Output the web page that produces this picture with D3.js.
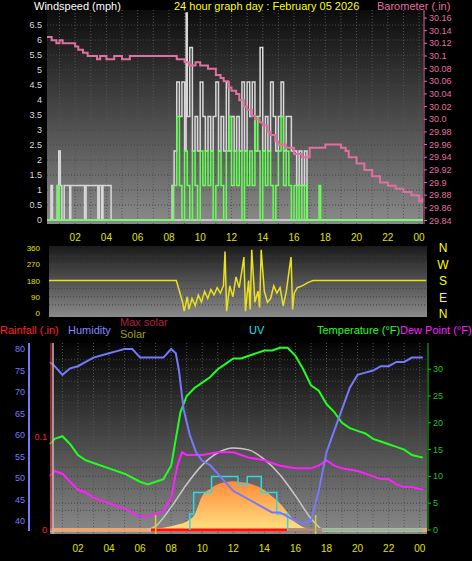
<!DOCTYPE html>
<html><head><meta charset="utf-8">
<script src="https://cdn.jsdelivr.net/npm/d3@7"></script>
<style>body{margin:0;background:#000}svg{display:block}text{font-family:"Liberation Sans",Arial,sans-serif}</style>
</head><body>
<svg id="c" width="472" height="561"></svg>
<script>
// ---- data (hours since midnight) ----
var hourTicks = [2,4,6,8,10,12,14,16,18,20,22,24];
var gustTimes = [0.2,0.45,0.55,0.85,0.95,1.05,1.15,1.3,1.65,1.72,2.6,2.7,3.45,3.55,3.7,3.78,4.3,4.38,8.2,8.33,8.5,8.67,8.83,9.0,9.1,9.17,9.33,9.5,9.67,9.83,10,10.17,10.33,10.5,10.67,10.83,11,11.17,11.33,11.5,11.67,11.83,12,12.17,12.33,12.5,12.67,12.83,13,13.17,13.33,13.5,13.67,13.83,14,14.17,14.33,14.5,14.67,14.83,15,15.17,15.33,15.5,15.67,15.83,16,16.17,16.33,16.5,16.67,16.83,24.25];
var gustValues = [0,1.15,0,1.15,2.3,1.15,0,1.15,0,1.15,0,1.15,0,1.15,0,1.15,0,0,1.15,2.3,4.6,3.45,4.6,2.3,6.9,3.45,5.75,2.3,3.45,2.3,4.6,3.45,2.3,3.45,2.3,3.45,4.6,2.3,3.45,2.3,4.6,2.3,3.45,2.3,3.45,2.3,4.6,2.3,4.6,3.45,4.6,2.3,3.45,5.75,2.3,3.45,2.3,4.6,3.45,2.3,3.45,4.6,2.3,3.45,3.45,2.3,2.3,1.15,2.3,1.15,2.3,0,0];
var speedTimes = [0.2,0.9,1.0,8.3,8.5,8.67,8.83,9.0,9.17,9.33,9.5,9.67,9.83,10,10.17,10.33,10.5,10.67,10.83,11,11.17,11.33,11.5,11.67,11.83,12,12.17,12.33,12.5,12.67,12.83,13,13.17,13.33,13.5,13.67,13.83,14,14.17,14.33,14.5,14.67,14.83,15,15.17,15.33,15.5,15.67,15.83,16,16.17,16.33,16.5,16.67,16.83,17.6,17.7,24.25];
var speedValues = [0,1.15,0,1.15,3.45,1.15,0,2.3,1.15,0,2.3,1.15,0,2.3,1.15,2.3,1.15,2.3,0,1.15,2.3,1.15,0,2.3,3.45,1.15,2.3,1.15,2.3,0,2.3,1.15,2.3,1.15,3.45,2.3,0,2.3,1.15,2.3,1.15,0,1.15,2.3,3.45,1.15,2.3,1.15,0,1.15,0,1.15,0,1.15,0,1.15,0,0];
var baroTimes = [0.2,0.5,0.8,1.0,1.2,1.6,2.0,2.2,2.5,2.8,3,3.4,3.6,4,4.5,5,5.5,6,7,8,8.5,9,9.3,9.7,10,10.5,11,11.3,11.5,11.8,12,12.3,12.5,12.8,13,13.3,13.5,13.8,14,14.3,14.5,14.8,15,15.5,16,16.5,17,18,19,19.3,19.5,20,20.5,21,21.5,22,22.5,23,23.5,24,24.2];
var baroValues = [30.13,30.125,30.12,30.125,30.12,30.12,30.115,30.11,30.105,30.1,30.1,30.095,30.1,30.095,30.1,30.095,30.1,30.1,30.1,30.1,30.095,30.09,30.085,30.09,30.085,30.08,30.07,30.065,30.06,30.05,30.045,30.04,30.03,30.02,30.015,30.005,30.0,29.995,29.99,29.98,29.975,29.965,29.96,29.955,29.945,29.94,29.955,29.96,29.955,29.95,29.94,29.93,29.92,29.91,29.9,29.895,29.89,29.885,29.88,29.87,29.875];
var dirTimes = [0.2,8.3,8.5,8.7,8.8,9.0,9.1,9.3,9.5,9.7,9.9,10.1,10.3,10.5,10.7,10.9,11.1,11.3,11.4,11.5,11.7,11.9,12.1,12.3,12.5,12.6,12.7,12.9,13.0,13.1,13.3,13.5,13.6,13.7,13.9,14.1,14.3,14.5,14.7,14.9,15.1,15.3,15.5,15.6,15.7,15.8,16.0,16.3,16.7,17.0,24.2];
var dirValues = [180,180,120,60,10,90,20,80,40,100,60,120,80,130,100,140,110,150,340,10,150,90,200,140,250,310,10,180,20,350,60,120,30,350,120,60,80,150,110,140,40,120,250,310,20,110,140,150,170,180,180];
var humTimes = [0.2,0.5,1,1.5,2,2.5,3,4,4.5,5,5.5,6,7,7.5,8,8.3,8.5,8.8,9.2,9.6,10,10.5,11,11.5,12,12.5,13,13.5,14,14.5,15,15.5,16,16.5,17,17.5,18,18.5,19,19.5,20,20.5,21,21.5,22,22.5,23,23.5,24.2];
var humValues = [77,76,74,75.5,76,77,78,79,79.5,80,80,78,78,78,80,79,75,66,60,56,54,53,51,49,47,46,45,44,43,42,42,41,40,39.5,40,47,56,61,66,71,74,74.5,75,76,76,77,77,78,78];
var tempTimes = [0.2,0.5,1,1.5,2,2.5,3,4,5,6,6.5,7,7.5,8,8.3,8.6,9,9.5,10,10.5,11,11.5,12,12.5,13,13.5,14,14.5,15,15.5,16,16.5,17,17.5,18,18.5,19,19.5,20,20.5,21,21.5,22,22.5,23,23.5,24.2];
var tempValues = [16,17,17.5,16,14,13,12.5,11.5,10.5,9,8.5,9,9.5,12,17,22,25,26.5,27.5,28.5,30,31,32,32,32.5,33,33.5,33.5,34,34,32.5,30,27,26,23.5,22,20,19,18.5,18,17,16.5,16,15.5,15,14,13.5];
var dewTimes = [0.2,0.5,1,1.5,2,2.5,3,4,5,6,6.5,7,7.5,8,8.4,8.7,9,10,11,12,12.5,13,14,15,16,17,17.5,18,18.5,19,20,21,21.5,22,22.5,23,23.5,24.2];
var dewValues = [10,11,10.5,9,7.5,7,6,5,4,2.5,2.5,3,3.5,6,12,14.5,14,14,14.5,14.5,14,13.5,13,12,11.5,11.5,12,13,12,11.5,11,10,9.5,9.5,8.5,8,8,7.5];
var uvTimes = [9.2,9.45,9.6,10.6,12.3,12.9,13.8,14.8,15.2,15.5,24.2];
var uvValues = [3,7,7,10,8.5,10,7,3,3,0,0];
var solarTimes = [7,8,8.5,9,9.5,10,10.5,11,11.5,12,12.5,13,13.5,14,14.5,15,15.5,16,16.5,17,17.5];
var solarValues = [5,20,30,45,80,180,215,240,250,255,250,245,230,210,175,140,90,40,15,5,0];
var maxSolarTimes = [6.5,7,8,9,10,11,12,13,14,15,16,17,17.7];
var maxSolarValues = [0,20,120,240,340,405,430,420,370,290,180,60,0];
var sunMarks = [7.0,17.3];

var svg = d3.select("#c");
var defs = svg.append("defs");
function bgGrad(id, c0, c1){
  var g = defs.append("linearGradient").attr("id", id).attr("x1",0).attr("y1",0).attr("x2",0).attr("y2",1);
  g.append("stop").attr("offset","0%").attr("stop-color",c0);
  g.append("stop").attr("offset","100%").attr("stop-color",c1);
}
bgGrad("bgTop","#0c0c0c","#8a8a8a");
bgGrad("bgMid","#1a1a1a","#8a8a8a");
bgGrad("bgBot","#050505","#8a8a8a");
bgGrad("solarG","#ff8a3a","#ffe080");

function panel(x0,x1,y0,y1,id){
  svg.append("rect").attr("x",x0).attr("y",y0).attr("width",x1-x0).attr("height",y1-y0).attr("fill","url(#"+id+")");
}
function vgrid(xs,y0,y1){
  hourTicks.concat(d3.range(1,25,2)).forEach(function(h){
    svg.append("line").attr("x1",xs(h)).attr("x2",xs(h)).attr("y1",y0).attr("y2",y1)
      .attr("stroke","#555").attr("stroke-dasharray","1,2");
  });
}
function hgrid(ys,ticks,x0,x1){
  ticks.forEach(function(t){
    svg.append("line").attr("x1",x0).attr("x2",x1).attr("y1",ys(t)).attr("y2",ys(t))
      .attr("stroke","#444").attr("stroke-dasharray","1,2");
  });
}
function xLabels(xs,y){
  hourTicks.forEach(function(h){
    svg.append("text").attr("x",xs(h)).attr("y",y).attr("text-anchor","middle")
      .attr("fill","#e0e000").attr("font-size",10).text(d3.format("02")(h%24));
  });
}
function pairs(ts,vs){ return ts.map(function(t,i){return [t,vs[i]];}); }

// ---------- top panel: wind + barometer ----------
var xT = d3.scaleLinear().domain([0.2,24.25]).range([47,423]);
var yW = d3.scaleLinear().domain([0,6.5]).range([220,25]);
var yB = d3.scaleLinear().domain([29.84,30.16]).range([220.5,18]);
panel(47,423,10,224,"bgTop");
vgrid(xT,10,224);
hgrid(yW,d3.range(0.5,7,0.5),47,423);
var stepLine = function(xs,ys){ return d3.line().x(function(d){return xs(d[0]);}).y(function(d){return ys(d[1]);}).curve(d3.curveStepAfter); };
svg.append("line").attr("x1",47).attr("x2",423).attr("y1",yW(0)).attr("y2",yW(0)).attr("stroke","#ddd").attr("stroke-width",1.5);
svg.append("path").attr("d",stepLine(xT,yW)(pairs(gustTimes,gustValues))).attr("fill","none").attr("stroke","#d8d8d8").attr("stroke-width",1.5);
svg.append("path").attr("d",stepLine(xT,yW)(pairs(speedTimes,speedValues))).attr("fill","none").attr("stroke","#66ff55").attr("stroke-width",1.5);
svg.append("path").attr("d",stepLine(xT,yB)(pairs(baroTimes,baroValues))).attr("fill","none").attr("stroke","#e070a0").attr("stroke-width",2);
d3.range(0.5,7,0.5).concat([0]).forEach(function(v){
  svg.append("text").attr("x",42).attr("y",yW(v)+3).attr("text-anchor","end").attr("fill","#ddd").attr("font-size",9).text(v);
});
svg.append("line").attr("x1",424).attr("x2",424).attr("y1",10).attr("y2",224).attr("stroke","#e070a0");
d3.range(29.84,30.17,0.02).forEach(function(v){
  svg.append("line").attr("x1",424).attr("x2",427).attr("y1",yB(v)).attr("y2",yB(v)).attr("stroke","#e070a0");
  svg.append("text").attr("x",429).attr("y",yB(v)+3).attr("fill","#e070a0").attr("font-size",9).text(d3.format(".2f")(v).replace(/0$/,"").replace(/\.$/,""));
});
xLabels(xT,241);
svg.append("text").attr("x",34).attr("y",10).attr("fill","#fff").attr("font-size",11).text("Windspeed (mph)");
svg.append("text").attr("x",174).attr("y",10).attr("fill","#ffff00").attr("font-size",11).text("24 hour graph day : February 05 2026");
svg.append("text").attr("x",377).attr("y",10).attr("fill","#e070a0").attr("font-size",11).text("Barometer (.in)");

// ---------- middle panel: wind direction ----------
var xM = d3.scaleLinear().domain([0.2,24.25]).range([49,427]);
var yD = d3.scaleLinear().domain([0,360]).range([313,248]);
panel(49,427,246,317,"bgMid");
hgrid(yD,[45,90,135,180,225,270,315],49,427);
svg.append("path").attr("d",d3.line().x(function(d){return xM(d[0]);}).y(function(d){return yD(d[1]);})(pairs(dirTimes,dirValues)))
  .attr("fill","none").attr("stroke","#e8e020").attr("stroke-width",1.5);
[0,90,180,270,360].forEach(function(v){
  svg.append("text").attr("x",40).attr("y",yD(v)+3).attr("text-anchor","end").attr("fill","#e0e000").attr("font-size",8).text(v);
});
["N","W","S","E","N"].forEach(function(s,i){
  svg.append("text").attr("x",443).attr("y",252+i*16.5).attr("text-anchor","middle").attr("fill","#ffff00").attr("font-size",12).text(s);
});

// legend row
svg.append("text").attr("x",0).attr("y",334).attr("fill","#ff2020").attr("font-size",11).text("Rainfall (.in)");
svg.append("text").attr("x",68).attr("y",334).attr("fill","#8888ff").attr("font-size",11).text("Humidity");
svg.append("text").attr("x",120).attr("y",326).attr("fill","#b02040").attr("font-size",11).text("Max solar");
svg.append("text").attr("x",120).attr("y",338).attr("fill","#a0a000").attr("font-size",11).text("Solar");
svg.append("text").attr("x",249).attr("y",334).attr("fill","#20e0e0").attr("font-size",11).text("UV");
svg.append("text").attr("x",317).attr("y",334).attr("fill","#20ff20").attr("font-size",11).text("Temperature (°F)");
svg.append("text").attr("x",400).attr("y",334).attr("fill","#ff20ff").attr("font-size",11).text("Dew Point (°F)");

// ---------- bottom panel ----------
var xL = d3.scaleLinear().domain([0.2,24.25]).range([50,423.6]);
var yH = d3.scaleLinear().domain([40,80]).range([521,349]);
var yR = d3.scaleLinear().domain([0,0.2]).range([530,343]);
var yT = d3.scaleLinear().domain([0,35]).range([530,342.4]);
var yS = d3.scaleLinear().domain([0,980]).range([530,343]);
panel(50,427,343,534,"bgBot");
vgrid(xL,343,534);
hgrid(yT,d3.range(5,35,5),50,427);
hgrid(yH,d3.range(42.5,80,5),50,427);
svg.append("rect").attr("x",50).attr("y",528).attr("width",377).attr("height",4).attr("fill","#ffb070").attr("opacity",0.8);
// solar
svg.append("path").attr("d",d3.area().x(function(d){return xL(d[0]);}).y0(yS(0)).y1(function(d){return yS(d[1]);}).curve(d3.curveMonotoneX)(pairs(solarTimes,solarValues)))
  .attr("fill","url(#solarG)");
svg.append("path").attr("d",d3.line().x(function(d){return xL(d[0]);}).y(function(d){return yS(d[1]);}).curve(d3.curveMonotoneX)(pairs(maxSolarTimes,maxSolarValues)))
  .attr("fill","none").attr("stroke","#c8c8c8").attr("stroke-width",1.5);
svg.append("line").attr("x1",xL(6.7)).attr("x2",xL(17.7)).attr("y1",530).attr("y2",530).attr("stroke","#ff1010").attr("stroke-width",3);
sunMarks.forEach(function(h){
  svg.append("line").attr("x1",xL(h)).attr("x2",xL(h)).attr("y1",515).attr("y2",534).attr("stroke","#e0d020").attr("stroke-width",1.5);
});
svg.append("path").attr("d",stepLine(xL,yT)([[9.2,0]].concat(pairs(uvTimes,uvValues)))).attr("fill","none").attr("stroke","#30d8e0").attr("stroke-width",1.5);
function lineP(ts,vs,ys,col){
  svg.append("path").attr("d",d3.line().x(function(d){return xL(d[0]);}).y(function(d){return ys(d[1]);})(pairs(ts,vs)))
    .attr("fill","none").attr("stroke",col).attr("stroke-width",2);
}
lineP(tempTimes,tempValues,yT,"#20ff20");
lineP(dewTimes,dewValues,yT,"#ff20ff");
lineP(humTimes,humValues,yH,"#7878ff");
svg.append("line").attr("x1",53).attr("x2",53).attr("y1",343).attr("y2",534).attr("stroke","#bbb").attr("stroke-width",1.5);
// axes
svg.append("line").attr("x1",29).attr("x2",29).attr("y1",343).attr("y2",531).attr("stroke","#7878ff").attr("stroke-width",2);
d3.range(40,81,5).forEach(function(v){
  svg.append("text").attr("x",25).attr("y",yH(v)+3).attr("text-anchor","end").attr("fill","#7878ff").attr("font-size",9).text(v);
});
svg.append("line").attr("x1",51).attr("x2",51).attr("y1",343).attr("y2",531).attr("stroke","#ff2020");
[0,0.1].forEach(function(v){
  svg.append("text").attr("x",47).attr("y",yR(v)+3).attr("text-anchor","end").attr("fill","#ff2020").attr("font-size",9).text(v);
});
svg.append("line").attr("x1",428).attr("x2",428).attr("y1",343).attr("y2",531).attr("stroke","#20c020");
d3.range(0,31,5).forEach(function(v){
  svg.append("line").attr("x1",428).attr("x2",431).attr("y1",yT(v)).attr("y2",yT(v)).attr("stroke","#20c020");
  svg.append("text").attr("x",433).attr("y",yT(v)+3).attr("fill","#20c020").attr("font-size",9).text(v);
});
xLabels(xL,552);
</script>
</body></html>
